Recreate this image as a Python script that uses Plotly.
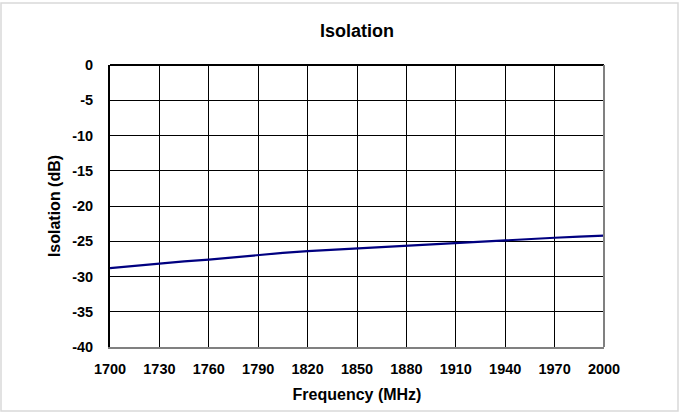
import plotly.graph_objects as go

freq_mhz = [1700, 1715, 1730, 1745, 1760, 1775, 1790, 1805, 1820, 1835, 1850, 1865, 1880, 1895, 1910, 1925, 1940, 1955, 1970, 1985, 2000]
isolation_db = [-28.8, -28.45, -28.1, -27.85, -27.6, -27.25, -26.9, -26.65, -26.4, -26.2, -26.0, -25.85, -25.6, -25.4, -25.2, -25.0, -24.85, -24.7, -24.5, -24.35, -24.2]
x_ticks = [1700, 1730, 1760, 1790, 1820, 1850, 1880, 1910, 1940, 1970, 2000]
y_ticks = [0, -5, -10, -15, -20, -25, -30, -35, -40]

FONT = "Liberation Sans, Arial, sans-serif"

fig = go.Figure()
fig.add_trace(go.Scatter(x=freq_mhz, y=isolation_db, mode="lines",
                         line=dict(color="#000080", width=2.2), showlegend=False))

fig.update_layout(
    width=681, height=413,
    margin=dict(l=110, r=77, t=65, b=66),
    paper_bgcolor="white", plot_bgcolor="white",
    title=dict(text="<b>Isolation</b>", x=0.5, xref="paper", xanchor="center",
               y=1 - 31/413, yanchor="middle",
               font=dict(family=FONT, size=18, color="black")),
    font=dict(family=FONT, size=14.5, color="black"),
)
fig.update_xaxes(range=[1700, 2000], tickvals=x_ticks, ticktext=[f"<b>{v}</b>" for v in x_ticks],
                 showgrid=True, gridcolor="black", gridwidth=1, zeroline=False,
                 showline=True, linecolor="#808080", linewidth=2, mirror=False,
                 ticks="", ticklabelstandoff=8,
                 title=dict(text="<b>Frequency (MHz)</b>", font=dict(size=16), standoff=12))
fig.update_yaxes(range=[-40, 0], tickvals=y_ticks, ticktext=[f"<b>{v}</b>" for v in y_ticks],
                 showgrid=True, gridcolor="black", gridwidth=1, zeroline=False,
                 showline=True, linecolor="black", linewidth=2,
                 ticks="", ticklabelstandoff=12,
                 title=dict(text="<b>Isolation (dB)</b>", font=dict(size=16), standoff=8))

# plot border (top black, right gray)
fig.add_shape(type="line", xref="paper", yref="paper", x0=0, x1=1, y0=1, y1=1,
              line=dict(color="black", width=2))
fig.add_shape(type="line", xref="paper", yref="paper", x0=1, x1=1, y0=0, y1=1,
              line=dict(color="#808080", width=2))
# outer chart border
fig.add_shape(type="rect", xref="paper", yref="paper",
              x0=(1 - 110) / 494, x1=(678 - 110) / 494,
              y0=(347 - 411) / 282, y1=(347 - 3) / 282,
              line=dict(color="#d9d9d9", width=1.5), layer="below")

fig.write_html("out.html", config={"displayModeBar": False},
               post_script="document.body.style.margin='0px';")
